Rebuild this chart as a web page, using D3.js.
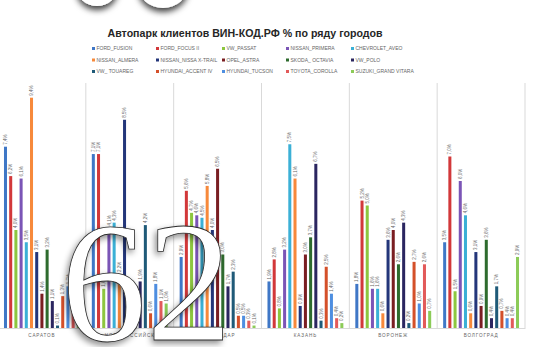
<!DOCTYPE html>
<html>
<head>
<meta charset="utf-8">
<script src="https://cdn.jsdelivr.net/npm/d3@7"></script>
<style>
    html, body { margin: 0; padding: 0; background: #fff; }
    svg { display: block; font-family: "Liberation Sans", Arial, sans-serif; }
</style>
</head>
<body>
<div id="chart-container"></div>
<script>
const cities = ["САРАТОВ", "НОВОРОССИЙСК", "КРАСНОДАР", "КАЗАНЬ", "ВОРОНЕЖ", "ВОЛГОГРАД"];

const seriesNames = [
    "FORD_FUSION", "FORD_FOCUS II", "VW_PASSAT", "NISSAN_PRIMERA", "CHEVROLET_AVEO",
    "NISSAN_ALMERA", "NISSAN_NISSA X-TRAIL", "OPEL_ASTRA", "SKODA_ OCTAVIA", "VW_POLO",
    "VW_ TOUAREG", "HYUNDAI_ACCENT IV", "HYUNDAI_TUCSON", "TOYOTA_COROLLA", "SUZUKI_GRAND VITARA"
];

const seriesColors = [
    "#3f77c6", "#d2383a", "#8dc63f", "#7b55b6", "#3bb0d6",
    "#f7893b", "#24367a", "#7a1e22", "#2e6b2e", "#2b2660",
    "#1f5a78", "#d4502a", "#4e8ee0", "#e25a5a", "#8ccb58"
];

// % of fleet per city, same order as seriesNames
const saratov      = [7.4, 6.2, 4.0, 6.1, 3.5, 9.4, 3.1, 1.4, 3.2, 1.1, 0.1, 1.3, 1.7, 0.8, 0.6];
const novorossiysk = [7.1, 7.1, 1.6, 4.1, 4.3, 2.2, 8.5, 1.5, 1.2, 1.9, 4.2, 0.6, 1.8, 1.1, 1.0];
const krasnodar    = [2.9, 5.6, 4.7, 4.6, 4.5, 5.8, 4.0, 6.5, 3.0, 1.7, 2.3, 0.5, 0.5, 0.3, 0.1];
const kazan        = [1.9, 2.8, 0.8, 3.2, 7.5, 6.1, 0.9, 3.0, 3.7, 6.7, 0.3, 2.5, 1.4, 0.4, 0.2];
const voronezh     = [1.8, 5.2, 5.0, 1.6, 1.6, 0.6, 3.6, 4.0, 2.6, 4.3, 0.2, 2.7, 1.0, 2.6, 0.7];
const volgograd    = [3.5, 7.0, 1.5, 6.0, 4.6, 0.6, 3.1, 0.9, 3.6, 0.4, 1.7, 0.7, 0.4, 0.4, 2.9];

const values = [saratov, novorossiysk, krasnodar, kazan, voronezh, volgograd];

const yTicks = [0, 10];
const titleText = "Автопарк клиентов ВИН-КОД.РФ % по ряду городов";
const pageNumber = "62";

const width = 541, height = 347;
const plot = {left: -2, right: 525, top: 83, bottom: 328};
const textGray = "#666";
const gridGray = "#d9d9d9";

function initChart() {
    const svg = d3.select("#chart-container").append("svg")
        .attr("width", width)
        .attr("height", height);

    const defs = svg.append("defs");
    addShadow(defs, "shadow", -2, 3, 3, 0.45);
    addShadow(defs, "shadow-top", 0, 4, 3, 0.75);

    const x0 = d3.scaleBand()
        .domain(cities)
        .range([plot.left, plot.right]);

    const x1 = d3.scaleBand()
        .domain(seriesNames)
        .range([0, x0.bandwidth()])
        .paddingInner(0.42)
        .paddingOuter(1.15);

    const y = d3.scaleLinear()
        .domain(d3.extent(yTicks))
        .range([plot.bottom, plot.top]);

    renderTitle(svg);
    renderLegend(svg);
    renderGrid(svg, x0, y);
    renderBars(svg, x0, x1, y);
    renderAxis(svg, x0, y);
    renderDecor(svg);
}

function addShadow(defs, id, dx, dy, blur, opacity) {
    defs.append("filter")
        .attr("id", id)
        .attr("x", "-30%").attr("y", "-30%")
        .attr("width", "160%").attr("height", "160%")
        .append("feDropShadow")
        .attr("dx", dx).attr("dy", dy)
        .attr("stdDeviation", blur)
        .attr("flood-color", "#000")
        .attr("flood-opacity", opacity);
}

function renderTitle(svg) {
    const title = svg.append("text")
        .attr("x", 245)
        .attr("y", 37)
        .attr("text-anchor", "middle")
        .style("font-weight", "bold")
        .style("font-size", "12px")
        .attr("fill", "#262626")
        .text(titleText);
    // fit to the width seen in the picture
    const len = title.node().getComputedTextLength();
    title.style("font-size", (12 * 275 / len) + "px");
}

function renderLegend(svg) {
    const colX = [92, 156, 222, 286, 351];
    const rowY = [49, 60.5, 72];

    const items = svg.append("g")
        .selectAll("g")
        .data(seriesNames)
        .join("g")
        .attr("transform", (d, i) => `translate(${colX[i % 5]}, ${rowY[Math.floor(i / 5)]})`);

    items.append("rect")
        .attr("x", 0)
        .attr("y", -2)
        .attr("width", 3)
        .attr("height", 3)
        .attr("fill", (d, i) => seriesColors[i]);

    items.append("text")
        .attr("x", 4.5)
        .attr("y", 1.2)
        .style("font-size", "5px")
        .attr("fill", textGray)
        .text(d => d);
}

function renderGrid(svg, x0, y) {
    const edges = cities.map(c => x0(c)).concat([plot.right]);
    svg.append("g")
        .selectAll("line")
        .data(edges)
        .join("line")
        .attr("x1", d => d)
        .attr("x2", d => d)
        .attr("y1", y(10))
        .attr("y2", y(0))
        .attr("stroke", gridGray)
        .attr("stroke-width", 1);
}

function renderBars(svg, x0, x1, y) {
    const fmt = v => d3.format(".1f")(v).replace(".", ",") + "%";

    const groups = svg.append("g")
        .selectAll("g")
        .data(values)
        .join("g")
        .attr("transform", (d, i) => `translate(${x0(cities[i])}, 0)`);

    groups.selectAll("rect")
        .data(d => d)
        .join("rect")
        .attr("x", (d, i) => x1(seriesNames[i]))
        .attr("y", d => y(d))
        .attr("width", x1.bandwidth())
        .attr("height", d => y(0) - y(d))
        .attr("fill", (d, i) => seriesColors[i]);

    groups.selectAll("text")
        .data(d => d)
        .join("text")
        .attr("transform", (d, i) =>
            `translate(${x1(seriesNames[i]) + x1.bandwidth() / 2 + 1.6}, ${y(d) - 2}) rotate(-90)`)
        .style("font-size", "4.5px")
        .attr("fill", textGray)
        .text(d => fmt(d));
}

function renderAxis(svg, x0, y) {
    const xAxis = d3.axisBottom(x0)
        .tickSize(0)
        .tickPadding(6);

    const axis = svg.append("g")
        .attr("class", "axis")
        .attr("transform", `translate(0, ${y(0)})`)
        .call(xAxis);

    axis.select("path")
        .attr("stroke", gridGray);

    axis.selectAll("text")
        .style("font-size", "4.6px")
        .style("letter-spacing", "0.9px")
        .style("font-family", "'Liberation Sans', Arial, sans-serif")
        .attr("fill", textGray);
}

function renderDecor(svg) {
    // cut-off shapes at the top edge
    svg.append("g")
        .selectAll("ellipse")
        .data([[97, -14, 21, 20], [163, -14, 25, 22]])
        .join("ellipse")
        .attr("cx", d => d[0])
        .attr("cy", d => d[1])
        .attr("rx", d => d[2])
        .attr("ry", d => d[3])
        .attr("fill", "#fff")
        .attr("filter", "url(#shadow-top)");

    svg.append("text")
        .attr("x", 61)
        .attr("y", 340)
        .style("font-family", "'Liberation Serif', 'DejaVu Serif', serif")
        .style("font-size", "171px")
        .attr("fill", "#fff")
        .attr("stroke", "#2a2a2a")
        .attr("stroke-width", 0.8)
        .attr("filter", "url(#shadow)")
        .text(pageNumber);
}

initChart();
</script>
</body>
</html>
